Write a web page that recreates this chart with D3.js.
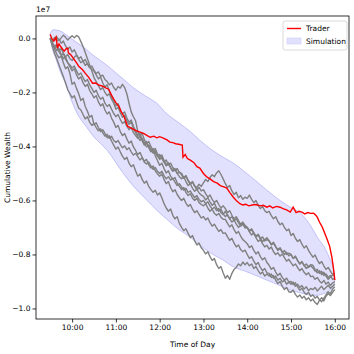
<!DOCTYPE html>
<html>
<head>
<meta charset="utf-8">
<script src="https://cdn.jsdelivr.net/npm/d3@7"></script>
<style>
  body { margin: 0; background: #fff; }
  text { font-family: "DejaVu Sans", sans-serif; }
</style>
</head>
<body>
<script>
// minutes after 9:30, values in units of 1e7
var xTickLabels = ['10:00', '11:00', '12:00', '13:00', '14:00', '15:00', '16:00'];
var yTicks = [0.0, -0.2, -0.4, -0.6, -0.8, -1.0];

// simulation envelope
var bandMin = [0, 3, 8, 14, 21, 30, 39, 49, 60, 78, 90, 100, 115, 131, 146, 160, 175, 192, 205, 220, 237, 251, 274, 297, 315, 329, 343, 356, 366, 375, 384, 388, 390];
var bandUpper = [0.015, 0.031, 0.031, 0.027, 0.015, -0.003, -0.02, -0.04, -0.065, -0.10, -0.128, -0.15, -0.185, -0.214, -0.24, -0.28, -0.31, -0.345, -0.377, -0.41, -0.44, -0.462, -0.51, -0.562, -0.60, -0.625, -0.647, -0.69, -0.736, -0.77, -0.821, -0.85, -0.885];
var bandLower = [0.01, -0.04, -0.077, -0.125, -0.166, -0.235, -0.288, -0.325, -0.365, -0.414, -0.46, -0.499, -0.55, -0.595, -0.636, -0.67, -0.705, -0.736, -0.765, -0.795, -0.821, -0.845, -0.869, -0.895, -0.915, -0.932, -0.942, -0.95, -0.951, -0.945, -0.932, -0.92, -0.895];

// simulated paths, one value every 3 minutes from 9:30 to 16:00
var sim1 = [
  0.000, -0.012, -0.004, 0.006, -0.008, 0.002, 0.012, 0.004, -0.006, 0.003,
  0.010, 0.002, 0.011, 0.006, -0.012, -0.030, -0.052, -0.075, -0.098, -0.120,
  -0.145, -0.160, -0.175, -0.190, -0.182, -0.200, -0.212, -0.205, -0.225, -0.240,
  -0.262, -0.255, -0.275, -0.292, -0.285, -0.305, -0.318, -0.310, -0.332, -0.348,
  -0.365, -0.378, -0.370, -0.388, -0.402, -0.395, -0.412, -0.425, -0.418, -0.435,
  -0.448, -0.440, -0.458, -0.472, -0.465, -0.480, -0.492, -0.485, -0.500, -0.495,
  -0.505, -0.518, -0.510, -0.528, -0.540, -0.532, -0.548, -0.560, -0.552, -0.565,
  -0.560, -0.575, -0.588, -0.580, -0.596, -0.608, -0.600, -0.615, -0.628, -0.620,
  -0.630, -0.645, -0.638, -0.655, -0.668, -0.660, -0.675, -0.688, -0.680, -0.692,
  -0.700, -0.712, -0.705, -0.720, -0.732, -0.725, -0.740, -0.752, -0.745, -0.738,
  -0.750, -0.762, -0.755, -0.770, -0.782, -0.775, -0.790, -0.800, -0.792, -0.805,
  -0.800, -0.815, -0.806, -0.822, -0.835, -0.826, -0.840, -0.852, -0.844, -0.838,
  -0.840, -0.856, -0.868, -0.860, -0.875, -0.866, -0.880, -0.892, -0.884, -0.876,
  -0.880];
var sim2 = [
  0.000, -0.015, -0.030, -0.022, -0.045, -0.038, -0.055, -0.068, -0.060, -0.075,
  -0.082, -0.070, -0.062, -0.078, -0.090, -0.084, -0.100, -0.092, -0.108, -0.102,
  -0.118, -0.130, -0.124, -0.140, -0.136, -0.152, -0.160, -0.172, -0.165, -0.182,
  -0.192, -0.178, -0.184, -0.170, -0.182, -0.205, -0.240, -0.272, -0.290, -0.305,
  -0.345, -0.360, -0.352, -0.375, -0.390, -0.382, -0.400, -0.415, -0.408, -0.428,
  -0.440, -0.432, -0.452, -0.468, -0.460, -0.478, -0.490, -0.482, -0.500, -0.512,
  -0.520, -0.512, -0.530, -0.545, -0.538, -0.555, -0.566, -0.558, -0.572, -0.580,
  -0.585, -0.598, -0.590, -0.605, -0.618, -0.610, -0.628, -0.640, -0.632, -0.650,
  -0.660, -0.652, -0.668, -0.680, -0.672, -0.688, -0.700, -0.692, -0.685, -0.698,
  -0.700, -0.716, -0.728, -0.720, -0.738, -0.752, -0.745, -0.760, -0.772, -0.766,
  -0.780, -0.772, -0.790, -0.800, -0.794, -0.806, -0.798, -0.812, -0.825, -0.818,
  -0.830, -0.842, -0.835, -0.848, -0.860, -0.852, -0.866, -0.875, -0.868, -0.882,
  -0.880, -0.892, -0.885, -0.898, -0.906, -0.896, -0.910, -0.902, -0.915, -0.906,
  -0.900];
var sim3 = [
  0.000, -0.020, -0.035, -0.028, -0.050, -0.062, -0.055, -0.078, -0.090, -0.098,
  -0.110, -0.102, -0.120, -0.135, -0.128, -0.145, -0.160, -0.152, -0.172, -0.185,
  -0.200, -0.192, -0.212, -0.225, -0.218, -0.240, -0.252, -0.245, -0.262, -0.278,
  -0.290, -0.282, -0.300, -0.315, -0.308, -0.325, -0.338, -0.330, -0.348, -0.360,
  -0.370, -0.362, -0.380, -0.395, -0.388, -0.402, -0.415, -0.408, -0.422, -0.436,
  -0.430, -0.445, -0.458, -0.450, -0.468, -0.462, -0.478, -0.490, -0.482, -0.496,
  -0.500, -0.515, -0.508, -0.525, -0.538, -0.530, -0.546, -0.552, -0.540, -0.548,
  -0.535, -0.522, -0.530, -0.515, -0.505, -0.512, -0.498, -0.490, -0.504, -0.520,
  -0.538, -0.552, -0.545, -0.565, -0.578, -0.570, -0.590, -0.582, -0.596, -0.588,
  -0.592, -0.580, -0.596, -0.608, -0.600, -0.618, -0.630, -0.622, -0.638, -0.645,
  -0.640, -0.656, -0.668, -0.660, -0.678, -0.690, -0.684, -0.700, -0.712, -0.706,
  -0.730, -0.722, -0.740, -0.752, -0.745, -0.762, -0.776, -0.768, -0.785, -0.798,
  -0.810, -0.802, -0.820, -0.834, -0.826, -0.842, -0.855, -0.848, -0.862, -0.874,
  -0.870];
var sim4 = [
  0.000, -0.025, -0.040, -0.058, -0.072, -0.065, -0.090, -0.112, -0.105, -0.130,
  -0.170, -0.162, -0.185, -0.205, -0.230, -0.222, -0.252, -0.270, -0.292, -0.285,
  -0.320, -0.312, -0.330, -0.345, -0.338, -0.352, -0.368, -0.360, -0.380, -0.395,
  -0.410, -0.402, -0.420, -0.436, -0.448, -0.440, -0.462, -0.475, -0.468, -0.490,
  -0.510, -0.502, -0.522, -0.536, -0.528, -0.548, -0.560, -0.570, -0.562, -0.580,
  -0.572, -0.590, -0.612, -0.628, -0.640, -0.632, -0.655, -0.668, -0.660, -0.685,
  -0.700, -0.712, -0.705, -0.722, -0.738, -0.730, -0.750, -0.765, -0.758, -0.775,
  -0.785, -0.798, -0.790, -0.808, -0.822, -0.815, -0.838, -0.852, -0.845, -0.868,
  -0.888, -0.878, -0.892, -0.870, -0.855, -0.848, -0.835, -0.842, -0.828, -0.838,
  -0.830, -0.842, -0.835, -0.852, -0.845, -0.860, -0.872, -0.865, -0.880, -0.872,
  -0.880, -0.872, -0.888, -0.880, -0.895, -0.888, -0.902, -0.895, -0.910, -0.902,
  -0.910, -0.902, -0.918, -0.910, -0.922, -0.915, -0.928, -0.920, -0.934, -0.926,
  -0.930, -0.922, -0.935, -0.926, -0.918, -0.930, -0.922, -0.914, -0.925, -0.918,
  -0.910];
var sim5 = [
  0.000, -0.018, -0.030, -0.045, -0.038, -0.060, -0.075, -0.068, -0.090, -0.105,
  -0.120, -0.112, -0.135, -0.150, -0.142, -0.165, -0.178, -0.170, -0.192, -0.205,
  -0.220, -0.212, -0.235, -0.250, -0.242, -0.265, -0.280, -0.272, -0.295, -0.310,
  -0.330, -0.322, -0.345, -0.360, -0.352, -0.372, -0.388, -0.380, -0.402, -0.415,
  -0.430, -0.422, -0.440, -0.455, -0.448, -0.468, -0.480, -0.472, -0.490, -0.502,
  -0.510, -0.502, -0.522, -0.538, -0.530, -0.552, -0.568, -0.560, -0.578, -0.590,
  -0.600, -0.592, -0.610, -0.622, -0.615, -0.632, -0.645, -0.638, -0.652, -0.665,
  -0.660, -0.672, -0.665, -0.682, -0.695, -0.688, -0.702, -0.715, -0.708, -0.722,
  -0.720, -0.735, -0.748, -0.740, -0.758, -0.772, -0.765, -0.782, -0.790, -0.784,
  -0.800, -0.815, -0.808, -0.825, -0.838, -0.830, -0.848, -0.860, -0.852, -0.868,
  -0.870, -0.885, -0.878, -0.895, -0.908, -0.900, -0.918, -0.930, -0.922, -0.938,
  -0.940, -0.932, -0.948, -0.958, -0.950, -0.962, -0.955, -0.968, -0.960, -0.972,
  -0.965, -0.978, -0.985, -0.970, -0.960, -0.972, -0.955, -0.945, -0.952, -0.940,
  -0.930];
var sim6 = [
  0.000, -0.030, -0.055, -0.075, -0.098, -0.120, -0.142, -0.165, -0.190, -0.205,
  -0.220, -0.212, -0.235, -0.258, -0.265, -0.282, -0.298, -0.290, -0.310, -0.322,
  -0.315, -0.330, -0.342, -0.335, -0.350, -0.362, -0.355, -0.370, -0.362, -0.378,
  -0.385, -0.378, -0.392, -0.405, -0.398, -0.412, -0.405, -0.420, -0.432, -0.425,
  -0.438, -0.450, -0.442, -0.458, -0.465, -0.458, -0.472, -0.485, -0.478, -0.492,
  -0.500, -0.492, -0.508, -0.520, -0.512, -0.525, -0.518, -0.532, -0.545, -0.538,
  -0.550, -0.562, -0.555, -0.570, -0.565, -0.578, -0.590, -0.582, -0.596, -0.605,
  -0.600, -0.612, -0.605, -0.620, -0.632, -0.625, -0.638, -0.630, -0.645, -0.652,
  -0.640, -0.655, -0.668, -0.660, -0.675, -0.668, -0.682, -0.695, -0.688, -0.702,
  -0.700, -0.715, -0.708, -0.722, -0.735, -0.728, -0.742, -0.735, -0.750, -0.745,
  -0.750, -0.765, -0.758, -0.772, -0.785, -0.778, -0.792, -0.785, -0.800, -0.795,
  -0.800, -0.815, -0.808, -0.822, -0.835, -0.828, -0.842, -0.835, -0.848, -0.842,
  -0.850, -0.862, -0.855, -0.870, -0.862, -0.878, -0.872, -0.885, -0.878, -0.892,
  -0.890];
var sim7 = [
  0.000, -0.008, 0.004, -0.010, -0.002, -0.018, -0.010, -0.028, -0.040, -0.032,
  -0.050, -0.042, -0.060, -0.075, -0.068, -0.085, -0.078, -0.095, -0.108, -0.115,
  -0.120, -0.135, -0.150, -0.142, -0.165, -0.180, -0.172, -0.195, -0.215, -0.232,
  -0.250, -0.242, -0.265, -0.280, -0.272, -0.295, -0.310, -0.302, -0.325, -0.342,
  -0.360, -0.352, -0.375, -0.390, -0.382, -0.405, -0.420, -0.412, -0.435, -0.452,
  -0.470, -0.462, -0.482, -0.498, -0.490, -0.510, -0.522, -0.515, -0.535, -0.548,
  -0.560, -0.552, -0.570, -0.582, -0.575, -0.592, -0.600, -0.592, -0.608, -0.615,
  -0.620, -0.612, -0.628, -0.640, -0.632, -0.648, -0.655, -0.648, -0.662, -0.670,
  -0.670, -0.685, -0.698, -0.690, -0.708, -0.722, -0.715, -0.732, -0.745, -0.752,
  -0.760, -0.775, -0.768, -0.785, -0.798, -0.790, -0.808, -0.820, -0.812, -0.830,
  -0.840, -0.855, -0.848, -0.865, -0.878, -0.870, -0.885, -0.895, -0.888, -0.902,
  -0.900, -0.912, -0.905, -0.920, -0.932, -0.925, -0.940, -0.948, -0.940, -0.955,
  -0.950, -0.962, -0.955, -0.968, -0.975, -0.962, -0.950, -0.938, -0.945, -0.928,
  -0.920];

// trader path
var traderMin = [0, 2, 5, 8, 10, 12, 14, 17, 19, 22, 24, 25, 28, 32, 36, 39, 44, 49, 53, 58, 62, 66, 72, 76, 80, 84, 87, 90, 94, 97, 101, 106, 109, 113, 118, 123, 128, 133, 137, 142, 146, 150, 155, 160, 164, 168, 172, 176, 181, 182, 185, 188, 192, 197, 201, 205, 210, 215, 219, 224, 229, 233, 238, 242, 246, 251, 255, 260, 264, 268, 272, 277, 281, 284, 288, 292, 297, 301, 305, 310, 315, 319, 324, 329, 333, 337, 341, 345, 349, 353, 357, 361, 364, 366, 369, 373, 376, 380, 383, 386, 388, 390];
var traderVal = [0.015, 0.0, -0.01, 0.005, -0.036, -0.02, -0.029, -0.04, -0.047, -0.038, -0.036, -0.054, -0.06, -0.075, -0.09, -0.103, -0.115, -0.132, -0.145, -0.166, -0.165, -0.172, -0.177, -0.183, -0.188, -0.21, -0.225, -0.238, -0.251, -0.27, -0.288, -0.325, -0.329, -0.335, -0.342, -0.347, -0.352, -0.36, -0.366, -0.362, -0.368, -0.364, -0.369, -0.376, -0.384, -0.386, -0.39, -0.392, -0.395, -0.44, -0.43, -0.445, -0.451, -0.46, -0.475, -0.48, -0.5, -0.514, -0.52, -0.53, -0.536, -0.545, -0.55, -0.554, -0.57, -0.588, -0.6, -0.612, -0.617, -0.614, -0.62, -0.617, -0.615, -0.617, -0.62, -0.618, -0.625, -0.62, -0.628, -0.622, -0.625, -0.63, -0.635, -0.643, -0.625, -0.645, -0.64, -0.643, -0.65, -0.645, -0.648, -0.647, -0.655, -0.662, -0.68, -0.699, -0.72, -0.747, -0.77, -0.81, -0.847, -0.895];

var w = 354, h = 354;
var padL = 36, padR = 349, padT = 16, padB = 319;

var svg = d3.select('body').append('svg').attr('width', w).attr('height', h);

var t0 = new Date(2020, 0, 1, 9, 30);
function toDate(m) { return new Date(t0.getTime() + m * 60000); }

var x = d3.scaleTime()
  .domain([toDate(-19.5), toDate(409.5)])
  .range([padL, padR]);
var y = d3.scaleLinear()
  .domain([-1.039, 0.083])
  .range([padB, padT]);

svg.append('defs').append('clipPath').attr('id', 'clip')
  .append('rect').attr('x', padL).attr('y', padT).attr('width', padR - padL).attr('height', padB - padT);

var plot = svg.append('g').attr('clip-path', 'url(#clip)');

// envelope
var bandData = bandMin.map(function(m, i) { return {m: m, hi: bandUpper[i], lo: bandLower[i]}; });
var area = d3.area()
  .curve(d3.curveCatmullRom)
  .x(function(d) { return x(toDate(d.m)); })
  .y0(function(d) { return y(d.lo); })
  .y1(function(d) { return y(d.hi); });
plot.append('path')
  .datum(bandData)
  .attr('d', area)
  .style('fill', '#e1e1fd')
  .style('stroke', '#b4b4f6')
  .style('stroke-width', 0.8);

// simulations
var sims = [sim1, sim2, sim3, sim4, sim5, sim6, sim7];
var simLine = d3.line()
  .x(function(d, i) { return x(toDate(i * 3)); })
  .y(function(d) { return y(d); });
plot.selectAll('.sim').data(sims)
  .enter()
  .append('path')
  .attr('d', simLine)
  .style('fill', 'none')
  .style('stroke', '#808080')
  .style('stroke-width', 1.4)
  .style('stroke-linejoin', 'round')
  .classed('sim', true);

// trader
var traderLine = d3.line()
  .x(function(d) { return x(toDate(d[0])); })
  .y(function(d) { return y(d[1]); });
plot.append('path')
  .datum(traderMin.map(function(m, i) { return [m, traderVal[i]]; }))
  .attr('d', traderLine)
  .style('fill', 'none')
  .style('stroke', 'red')
  .style('stroke-width', 1.4);

// axes
var hourTicks = xTickLabels.map(function(s) {
  var p = s.split(':');
  return new Date(2020, 0, 1, +p[0], +p[1]);
});
var xAxis = d3.axisBottom(x).tickValues(hourTicks).tickFormat(d3.timeFormat('%H:%M')).tickSize(3.5).tickPadding(2);
var yAxis = d3.axisLeft(y).tickValues(yTicks)
  .tickFormat(function(d) { return d3.format('.1f')(d).replace('-', '\u2212'); })
  .tickSize(3.5).tickPadding(2);

var gx = svg.append('g').attr('transform', 'translate(0,' + padB + ')').call(xAxis);
var gy = svg.append('g').attr('transform', 'translate(' + padL + ',0)').call(yAxis);
[gx, gy].forEach(function(g) {
  g.select('.domain').remove();
  g.selectAll('line').style('stroke', '#000').style('stroke-width', 0.8);
  g.selectAll('text').style('font-size', '7.5px').style('fill', '#000').style('font-family', 'DejaVu Sans');
});

// frame
svg.append('rect')
  .attr('x', padL).attr('y', padT)
  .attr('width', padR - padL).attr('height', padB - padT)
  .style('fill', 'none').style('stroke', '#000').style('stroke-width', 0.8);

svg.append('text').attr('x', padL).attr('y', 12).text('1e7').style('font-size', '7.5px');

svg.append('text')
  .attr('x', (padL + padR) / 2).attr('y', 347)
  .attr('text-anchor', 'middle')
  .text('Time of Day').style('font-size', '7.5px');

svg.append('text')
  .attr('transform', 'translate(10,' + (padT + padB) / 2 + ') rotate(-90)')
  .attr('text-anchor', 'middle')
  .text('Cumulative Wealth').style('font-size', '7.5px');

// legend
var lg = svg.append('g').attr('transform', 'translate(283,21)');
lg.append('rect').attr('width', 64).attr('height', 29).attr('rx', 2)
  .style('fill', '#fff').style('fill-opacity', 0.8).style('stroke', '#d0d0d0').style('stroke-width', 0.8);
lg.append('line').attr('x1', 4).attr('x2', 18).attr('y1', 7.5).attr('y2', 7.5)
  .style('stroke', 'red').style('stroke-width', 1.4);
lg.append('text').attr('x', 23).attr('y', 10).text('Trader').style('font-size', '7.5px');
lg.append('rect').attr('x', 4).attr('y', 17).attr('width', 14).attr('height', 6)
  .style('fill', '#e1e1fd').style('stroke', '#c8c8f8').style('stroke-width', 0.5);
lg.append('text').attr('x', 23).attr('y', 23).text('Simulation').style('font-size', '7.5px');
</script>
</body>
</html>
